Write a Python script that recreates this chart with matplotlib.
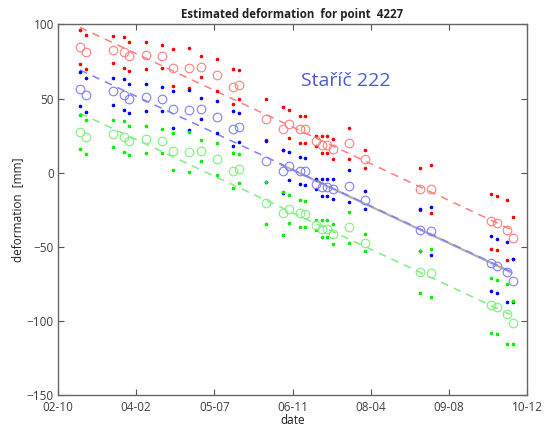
import numpy as np
import matplotlib.pyplot as plt

# acquisition positions on the date axis (tick units, 0 = 02-10, 6 = 10-12)
dates = [0.281, 0.354, 0.707, 0.838, 0.912, 1.126, 1.334, 1.475, 1.682, 1.827,
         2.038, 2.243, 2.319, 2.663, 2.876, 2.949, 3.093, 3.160, 3.301, 3.371,
         3.439, 3.512, 3.719, 3.931, 4.631, 4.776, 5.543, 5.612, 5.748, 5.825]

# estimated deformation [mm] (open circles)
red_est = [84.6, 81.2, 83.0, 81.2, 78.5, 79.4, 78.5, 70.9, 70.9, 71.5,
           65.7, 58.0, 59.4, 36.0, 29.7, 32.9, 29.3, 29.3, 21.2, 18.9,
           18.9, 16.2, 19.8, 9.4, -10.8, -10.8, -32.8, -34.1, -38.7, -44.1]
blue_est = [56.3, 52.6, 54.9, 52.6, 49.9, 50.9, 49.9, 42.8, 42.3, 43.2,
            37.4, 29.7, 30.6, 7.7, 0.9, 4.5, 1.3, 0.9, -7.6, -9.9,
            -9.9, -11.2, -9.0, -18.4, -38.7, -39.1, -61.1, -63.0, -67.0, -72.9]
green_est = [27.7, 24.3, 26.3, 24.3, 21.6, 22.5, 21.6, 14.4, 14.0, 14.8,
             9.0, 1.3, 2.7, -20.6, -27.4, -24.3, -27.4, -27.9, -35.5, -37.8,
             -37.8, -41.4, -36.8, -47.2, -67.0, -67.5, -89.5, -90.8, -95.3, -101.2]

# half width of the dot pairs around each estimate [mm]
spread = [11.5, 11.5, 9.0, 10.5, 9.8, 9.1, 8.0, 12.5, 13.5, 7.2,
          10.8, 11.8, 9.9, 14.0, 14.5, 9.4, 9.1, 9.0, 3.4, 5.9,
          5.9, 6.7, 10.6, 5.9, 14.2, 16.2, 18.4, 18.2, 20.2, 14.4]

# linear trends (start / end)
trend_x = [0.281, 5.825]
red_trend = [98.1, -39.1]
blue_trend = [69.3, -67.5]
green_trend = [40.1, -96.7]
gray_x = [2.85, 5.80]
gray_trend = [5.6, -67.3]

tick_labels = ['02-10', '04-02', '05-07', '06-11', '08-04', '09-08', '10-12']

plt.rcParams['font.family'] = ['Open Sans', 'DejaVu Sans']

fig = plt.figure(figsize=(5.51, 4.26), dpi=100)
ax = fig.add_axes([0.1053, 0.0728, 0.8512, 0.8697])

d = np.array(dates)
s = np.array(spread)

ax.plot(gray_x, gray_trend, color='#b0b0b0', lw=1.6, zorder=1)

series = [(red_est, red_trend, '#ff0000', '#ff8080'),
          (blue_est, blue_trend, '#0000ff', '#8080ff'),
          (green_est, green_trend, '#00ee00', '#80f080')]

for est, trend, dot_col, light_col in series:
    est = np.array(est)
    ax.plot(trend_x, trend, color=light_col, lw=1.1, ls=(0, (5, 4)), zorder=2)
    ax.plot(d, est + s, '.', color=dot_col, ms=3.2, zorder=3)
    ax.plot(d, est - s, '.', color=dot_col, ms=3.2, zorder=3)
    ax.plot(d, est, 'o', mfc='none', mec=light_col, ms=6.2, mew=0.8, zorder=4)

ax.set_xlim(0, 6)
ax.set_ylim(-150, 100)
ax.set_xticks(range(7))
ax.set_xticklabels(tick_labels)
ax.set_yticks([-150, -100, -50, 0, 50, 100])
ax.tick_params(direction='in', top=True, right=True, length=4, width=0.8,
               colors='#555555', labelcolor='#404040', labelsize=8.5)
ax.tick_params(axis='x', pad=4)
ax.tick_params(axis='y', pad=3)
for sp in ax.spines.values():
    sp.set_color('#666666')
    sp.set_linewidth(1.0)

ax.set_title('Estimated deformation  for point  4227', fontsize=8.3,
             fontweight='bold', color='#222222', pad=5)
ax.set_xlabel('date', fontsize=8.5, color='#222222', labelpad=0)
ax.set_ylabel('deformation  [mm]', fontsize=8.5, color='#222222', labelpad=2)

ax.text(0.519, 0.847, 'Staříč 222', transform=ax.transAxes, fontsize=14,
        color='#4a5cd4', family=['Open Sans', 'DejaVu Sans'], va='center')

fig.savefig('out.png', dpi=100)
